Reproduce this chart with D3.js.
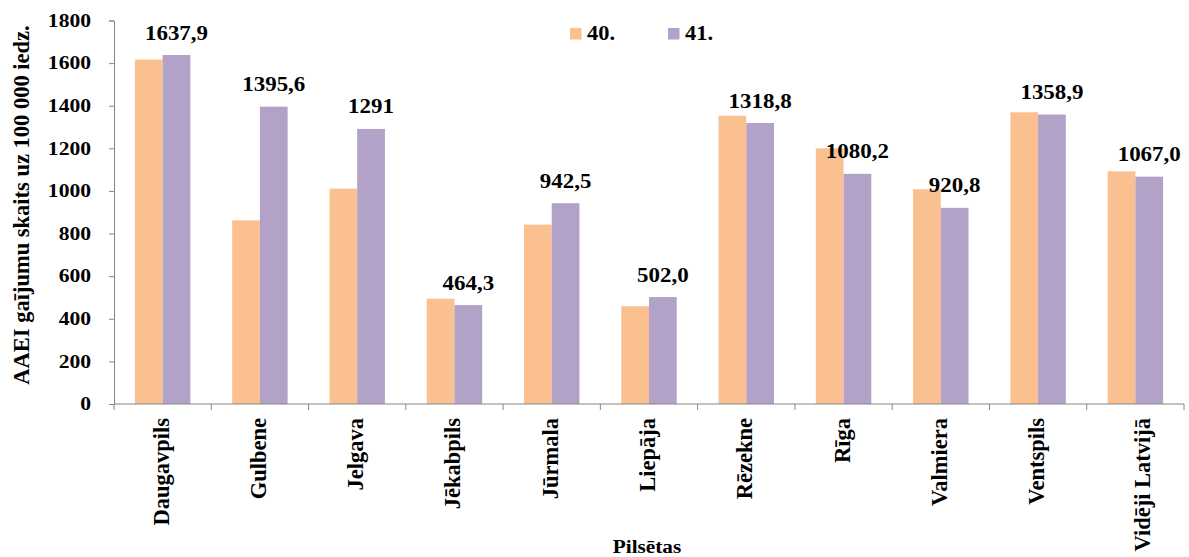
<!DOCTYPE html>
<html>
<head>
<meta charset="utf-8">
<script src="https://cdn.jsdelivr.net/npm/d3@7.9.0/dist/d3.min.js"></script>
<style>
  body { margin: 0; background: #fff; }
  svg text { font-family: "Liberation Serif", "Times New Roman", serif; font-weight: bold; fill: #000; }
</style>
</head>
<body>
<svg width="1189" height="557"></svg>
<script>
const cities = ['Daugavpils', 'Gulbene', 'Jelgava', 'Jēkabpils', 'Jūrmala', 'Liepāja',
  'Rēzekne', 'Rīga', 'Valmiera', 'Ventspils', 'Vidēji Latvijā'];
const week40 = [1617, 862, 1011, 494, 842, 459, 1353, 1200, 1008, 1369, 1092];
const week41 = [1637.9, 1395.6, 1291, 464.3, 942.5, 502.0, 1318.8, 1080.2, 920.8, 1358.9, 1067.0];
const labels41 = ['1637,9', '1395,6', '1291', '464,3', '942,5', '502,0', '1318,8', '1080,2', '920,8', '1358,9', '1067,0'];
const seriesNames = ['40.', '41.'];
const colors = ['#FAC090', '#B3A2C7'];
const yTicks = [0, 200, 400, 600, 800, 1000, 1200, 1400, 1600, 1800];

const svg = d3.select('svg');
const mLeft = 114, mRight = 1184, mTop = 20.5, mBottom = 404;
const stretch = 1.12; // reference text is a bit wider than it is tall

const x = d3.scaleBand().domain(cities).range([mLeft, mRight]).paddingInner(0.43).paddingOuter(0.215);
const x1 = d3.scaleBand().domain(seriesNames).range([0, x.bandwidth()]);
const y = d3.scaleLinear().domain([0, 1800]).range([mBottom, mTop]);

// bars
const data = cities.map((c, i) => ({ city: c, vals: [week40[i], week41[i]] }));
const groups = svg.selectAll('g.grp').data(data).join('g')
  .attr('class', 'grp')
  .attr('transform', (d) => `translate(${x(d.city)},0)`);
groups.selectAll('rect').data((d) => d.vals.map((v, k) => ({ v, k }))).join('rect')
  .attr('x', (d) => x1(seriesNames[d.k]))
  .attr('y', (d) => y(d.v))
  .attr('width', x1.bandwidth())
  .attr('height', (d) => y(0) - y(d.v))
  .attr('fill', (d) => colors[d.k]);

// value labels over the 41. bars
svg.selectAll('text.val').data(cities).join('text')
  .attr('class', 'val')
  .attr('transform', (c, i) =>
    `translate(${x(c) + x1('41.') + x1.bandwidth() / 2},${y(week41[i]) - 15.5}) scale(${stretch},1)`)
  .attr('text-anchor', 'middle')
  .attr('font-size', 20.5)
  .text((c, i) => labels41[i]);

// y axis
const yAxis = svg.append('g').attr('transform', `translate(${mLeft},0)`)
  .call(d3.axisLeft(y).tickValues(yTicks).tickSize(5).tickPadding(0).tickFormat(d3.format('d')));
yAxis.select('.domain').attr('stroke', '#868686');
yAxis.selectAll('.tick line').attr('stroke', '#868686');
yAxis.selectAll('.tick text')
  .attr('font-size', 18)
  .attr('font-family', '"Liberation Serif", "Times New Roman", serif')
  .attr('font-weight', 'bold')
  .attr('x', -23 / 1.2)
  .attr('transform', 'scale(1.2,1)');

// x axis with ticks at category boundaries
const xAxis = svg.append('g').attr('transform', `translate(0,${mBottom})`);
xAxis.append('line').attr('x1', mLeft).attr('x2', mRight).attr('stroke', '#868686');
const bounds = d3.range(cities.length + 1).map((i) => mLeft + i * (mRight - mLeft) / cities.length);
xAxis.selectAll('line.tk').data(bounds).join('line')
  .attr('class', 'tk')
  .attr('x1', (d) => d).attr('x2', (d) => d)
  .attr('y1', 0).attr('y2', 6)
  .attr('stroke', '#868686');
xAxis.selectAll('text').data(cities).join('text')
  .attr('transform', (c, i) => {
    const nudge = i === cities.length - 1 ? 15 : 6;
    return `translate(${x(c) + x.bandwidth() / 2 + nudge},14) rotate(-90)`;
  })
  .attr('text-anchor', 'end')
  .attr('font-size', 22.5)
  .text((c) => c);

// axis titles
svg.append('text')
  .attr('transform', `translate(29,${(22 + 388) / 2}) rotate(-90)`)
  .attr('text-anchor', 'middle')
  .attr('font-size', 22.5)
  .text('AAEI gaījumu skaits uz 100 000 iedz.');
svg.append('text')
  .attr('transform', `translate(${(mLeft + mRight) / 2 - 2},553) scale(${stretch},1)`)
  .attr('text-anchor', 'middle')
  .attr('font-size', 19)
  .text('Pilsētas');

// legend
const legend = svg.append('g').attr('transform', 'translate(570,28)');
seriesNames.forEach((s, i) => {
  const g = legend.append('g').attr('transform', `translate(${i * 98},0)`);
  g.append('rect').attr('width', 11.5).attr('height', 11.5).attr('fill', colors[i]);
  g.append('text')
    .attr('transform', `translate(17,12) scale(${stretch},1)`)
    .attr('font-size', 20)
    .text(s);
});
</script>
</body>
</html>
